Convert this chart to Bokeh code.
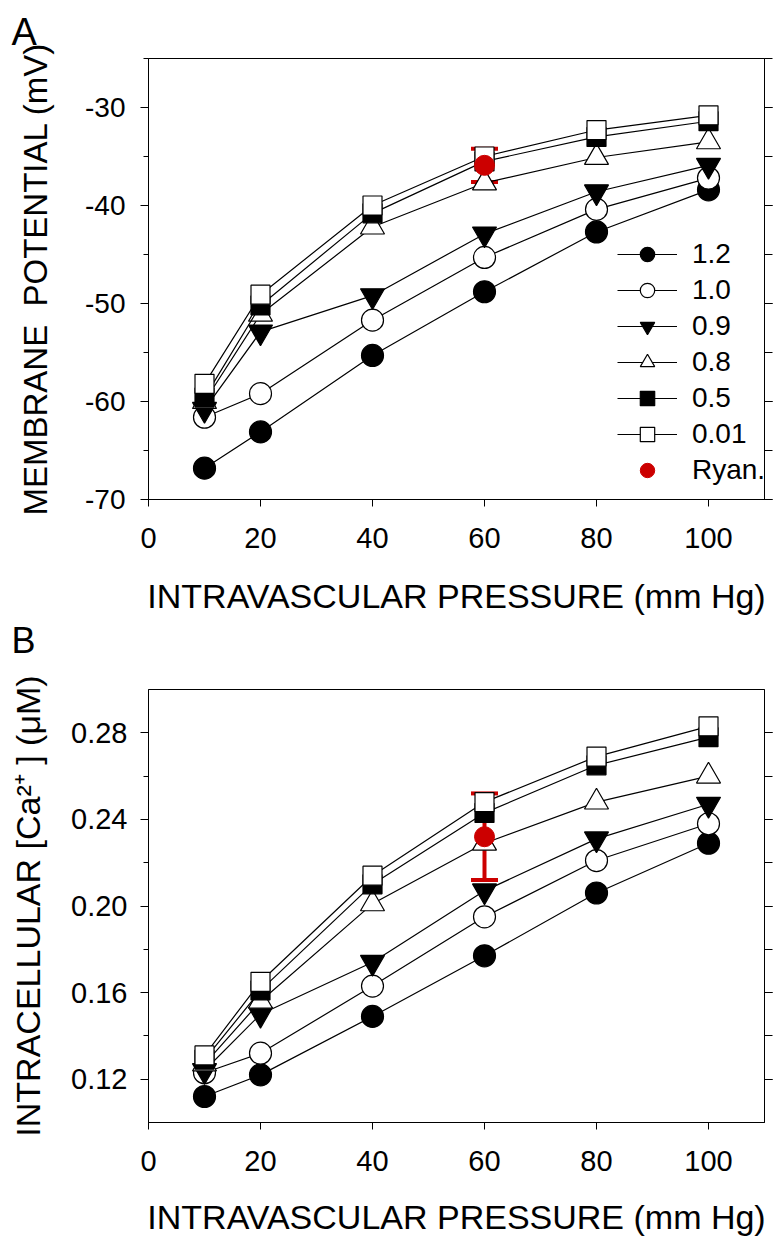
from bokeh.plotting import figure
from bokeh.layouts import column
from bokeh.models import (ColumnDataSource, LinearAxis, SingleIntervalTicker,
                          NumeralTickFormatter, Range1d, Legend, LegendItem,
                          Whisker, TeeHead, Title)
from bokeh.embed import file_html
from bokeh.resources import INLINE

# ---------------- data ----------------
pressure = [10, 20, 40, 60, 80, 100]
series_labels = ["1.2", "1.0", "0.9", "0.8", "0.5", "0.01"]

# Panel A: membrane potential (mV)
vm_12 = [-66.8, -63.1, -55.3, -48.8, -42.7, -38.4]
vm_10 = [-61.6, -59.2, -51.7, -45.3, -40.4, -37.2]
vm_09 = [-60.8, -52.9, -49.2, -42.9, -38.6, -35.9]
vm_08 = [-60.0, -51.1, -42.2, -37.7, -35.1, -33.5]
vm_05 = [-59.6, -50.2, -40.8, -35.5, -33.0, -31.4]
vm_001 = [-58.2, -49.1, -40.0, -35.0, -32.3, -30.8]

# Panel B: intracellular Ca2+ (uM)
ca_12 = [0.112, 0.122, 0.149, 0.177, 0.206, 0.229]
ca_10 = [0.123, 0.132, 0.163, 0.195, 0.221, 0.238]
ca_09 = [0.124, 0.150, 0.174, 0.207, 0.231, 0.247]
ca_08 = [0.127, 0.156, 0.201, 0.229, 0.248, 0.260]
ca_05 = [0.129, 0.161, 0.210, 0.243, 0.265, 0.278]
ca_001 = [0.131, 0.165, 0.214, 0.248, 0.269, 0.283]

# Ryanodine point (mean, error)
ryan_x = [60]
ryan_vm = [-35.9]
ryan_vm_err = [1.7]
ryan_ca = [0.232]
ryan_ca_err = [0.020]

x_ticks_step = 20
FONT = "Liberation Sans"
RED = "#CC0000"

markers = [
    dict(marker="circle", fill="black", size=22),
    dict(marker="circle", fill="white", size=22),
    dict(marker="inverted_triangle", fill="black", size=24),
    dict(marker="triangle", fill="white", size=24),
    dict(marker="square", fill="black", size=19),
    dict(marker="square", fill="white", size=19),
]


def letter_title(text, size, offset, standoff):
    return Title(text=text, align="left", offset=offset, standoff=standoff,
                 text_font=FONT, text_font_size=size,
                 text_font_style="normal", text_color="black")


def make_panel(ys, ryan_y, ryan_err, y_range, y_interval, y_fmt, y_title,
               ytitle_size, width, height, mb_left, mb_right, mb_top,
               mb_bottom, ylab_standoff, ylab_size, ytitle_standoff,
               xlab_standoff, xtitle_standoff, legend=False):
    p = figure(width=width, height=height, output_backend="svg",
               toolbar_location=None, x_range=Range1d(0, 110),
               y_range=Range1d(*y_range), min_border_left=mb_left,
               min_border_right=mb_right, min_border_top=mb_top,
               min_border_bottom=mb_bottom)
    p.xgrid.visible = False
    p.ygrid.visible = False
    p.outline_line_color = "black"
    p.outline_line_width = 1
    p.background_fill_color = "white"
    p.border_fill_color = "white"

    # x axis
    xa = p.xaxis[0]
    xa.ticker = SingleIntervalTicker(interval=x_ticks_step, num_minor_ticks=0)
    xa.axis_label = "INTRAVASCULAR PRESSURE (mm Hg)"
    xa.axis_label_text_font = FONT
    xa.axis_label_text_font_style = "normal"
    xa.axis_label_text_font_size = "34px"
    xa.axis_label_text_color = "black"
    xa.axis_label_standoff = xtitle_standoff
    xa.major_label_text_font = FONT
    xa.major_label_text_font_size = "29px"
    xa.major_label_text_color = "black"
    xa.major_label_standoff = xlab_standoff
    xa.major_tick_out = 7
    xa.major_tick_in = 0
    xa.minor_tick_line_color = None
    xa.axis_line_color = "black"
    xa.major_tick_line_color = "black"

    # y axis
    ticker = SingleIntervalTicker(interval=y_interval, num_minor_ticks=2)
    ya = p.yaxis[0]
    ya.ticker = ticker
    ya.formatter = NumeralTickFormatter(format=y_fmt)
    ya.axis_label = y_title
    ya.axis_label_text_font = FONT
    ya.axis_label_text_font_style = "normal"
    ya.axis_label_text_font_size = ytitle_size
    ya.axis_label_text_color = "black"
    ya.axis_label_standoff = ytitle_standoff
    ya.major_label_text_font = FONT
    ya.major_label_text_font_size = ylab_size
    ya.major_label_text_color = "black"
    ya.major_label_standoff = ylab_standoff
    ya.major_tick_out = 8
    ya.major_tick_in = 0
    ya.minor_tick_out = 5
    ya.minor_tick_in = 0
    ya.axis_line_color = "black"
    ya.major_tick_line_color = "black"
    ya.minor_tick_line_color = "black"

    # right axis: ticks only
    ra = LinearAxis(ticker=ticker, major_label_text_font_size="0px",
                    major_label_text_color=None,
                    major_label_standoff=0, major_tick_out=8, major_tick_in=0,
                    minor_tick_out=8, minor_tick_in=0, axis_line_color="black",
                    major_tick_line_color="black", minor_tick_line_color="black")
    p.add_layout(ra, "right")

    items = []
    for lab, y, m in zip(series_labels, ys, markers):
        src = ColumnDataSource(dict(x=pressure, y=y))
        lr = p.line("x", "y", source=src, line_color="black", line_width=1.2)
        sr = p.scatter("x", "y", source=src, marker=m["marker"], size=m["size"],
                       fill_color=m["fill"], line_color="black", line_width=1.2)
        items.append(LegendItem(label=lab, renderers=[lr, sr]))

    rsrc = ColumnDataSource(dict(x=ryan_x, y=ryan_y,
                                 lower=[a - e for a, e in zip(ryan_y, ryan_err)],
                                 upper=[a + e for a, e in zip(ryan_y, ryan_err)]))
    w = Whisker(base="x", upper="upper", lower="lower", source=rsrc,
                line_color=RED, line_width=4,
                upper_head=TeeHead(size=27, line_color=RED, line_width=4),
                lower_head=TeeHead(size=27, line_color=RED, line_width=4))
    p.add_layout(w)
    rr = p.scatter("x", "y", source=rsrc, marker="circle", size=20,
                   fill_color=RED, line_color=RED)
    items.append(LegendItem(label="Ryan.", renderers=[rr]))

    if legend:
        lg = Legend(items=items, location=(469, 11), orientation="vertical",
                    border_line_color=None, background_fill_alpha=0,
                    padding=0, margin=0, spacing=0, glyph_height=36,
                    glyph_width=60, label_height=30, label_standoff=15,
                    label_text_font=FONT, label_text_font_size="28px",
                    label_text_color="black")
        p.add_layout(lg)
    return p


pA = make_panel([vm_12, vm_10, vm_09, vm_08, vm_05, vm_001],
                ryan_vm, ryan_vm_err, (-70, -25), 10, "0",
                "MEMBRANE\u00a0 POTENTIAL (mV)", "33px",
                width=775, height=661, mb_left=138, mb_right=11, mb_top=58,
                mb_bottom=162, ylab_standoff=15, ylab_size="28px",
                ytitle_standoff=28, xlab_standoff=21, xtitle_standoff=26,
                legend=True)
pA.add_layout(letter_title("A", "38px", -137, 12), "above")
# panel letter of the lower chart, sitting in the gap between the two charts
pA.add_layout(letter_title("B", "36px", -137, 0), "below")

pB = make_panel([ca_12, ca_10, ca_09, ca_08, ca_05, ca_001],
                ryan_ca, ryan_ca_err, (0.10, 0.30), 0.04, "0.00",
                "INTRACELLULAR [Ca²⁺ ] (μM)", "34px",
                width=775, height=581, mb_left=148, mb_right=9, mb_top=28,
                mb_bottom=120, ylab_standoff=13, ylab_size="29px",
                ytitle_standoff=21, xlab_standoff=21, xtitle_standoff=24,
                legend=False)

layout = column(pA, pB, spacing=0)
open("out.html", "w").write(file_html(layout, INLINE))
